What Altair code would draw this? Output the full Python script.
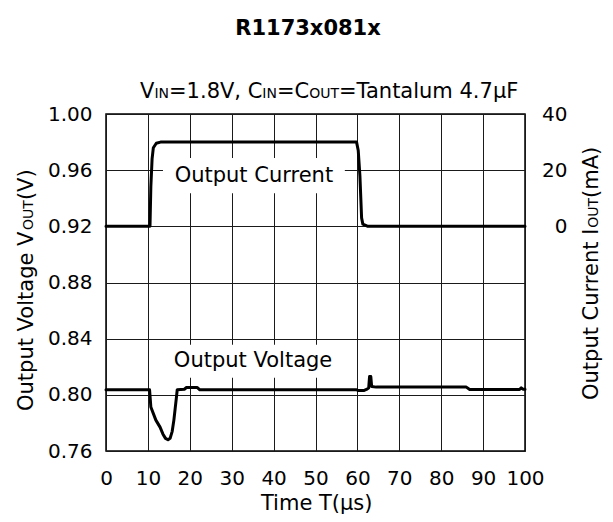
import altair as alt
import pandas as pd

# ---------------- data ----------------
# Output voltage trace (time in us, volts)
t_voltage = [0, 10.4, 10.7, 11.9, 12.9, 13.6, 14.2, 14.8, 15.3, 15.8, 16.2, 16.5, 16.8,
             17.0, 18.7, 19.2, 21.8, 22.4, 59.8, 60.2, 61.5, 62.3, 62.7, 62.9, 63.2,
             63.4, 64.5, 86.0, 86.8, 98.7, 99.1, 99.5, 100]
v_out = [0.8036, 0.8036, 0.7914, 0.7820, 0.7770, 0.7720, 0.7690, 0.7680, 0.7690, 0.7740,
         0.7820, 0.7900, 0.7980, 0.8036, 0.8040, 0.8052, 0.8052, 0.8036, 0.8036, 0.8030,
         0.8030, 0.8040, 0.8050, 0.8130, 0.8130, 0.8060, 0.8055, 0.8055, 0.8038, 0.8038,
         0.8050, 0.8040, 0.8040]

# Output current trace (time in us, mA)
t_current = [0, 10.5, 10.7, 11.0, 11.3, 12.0, 13.0, 59.8, 60.2, 60.6, 61.0, 61.3, 62.5, 100]
i_out = [0, 0, 14, 24, 28, 29.6, 30, 30, 27, 18, 3, 0.8, 0, 0]

# axes
x_ticks = [0, 10, 20, 30, 40, 50, 60, 70, 80, 90, 100]
v_ticks = [0.76, 0.80, 0.84, 0.88, 0.92, 0.96, 1.00]
i_ticks = [0, 20, 40]
v_domain = [0.76, 1.00]
i_domain = [-80, 40]

# in-plot annotations (data coordinates)
ann_text = ["Output Current", "Output Voltage"]
ann_t = [35.3, 35.1]
ann_v = [0.956, 0.824]
box_t0 = [13.6, 14.8]
box_t1 = [57.0, 55.4]
box_v0 = [0.9436, 0.8121]
box_v1 = [0.9686, 0.8357]

# ---------------- chart ----------------
FONT = "DejaVu Sans"
BIG = 21
SMALL = 14

df_v = pd.DataFrame({"t": t_voltage, "v": v_out, "i": range(len(t_voltage))})
df_i = pd.DataFrame({"t": t_current, "c": i_out, "i": range(len(t_current))})
df_ann = pd.DataFrame({"label": ann_text, "t": ann_t, "v": ann_v})
df_box = pd.DataFrame({"t0": box_t0, "t1": box_t1, "v0": box_v0, "v1": box_v1})
one = pd.DataFrame({"k": [0]})

x_scale = alt.Scale(domain=[0, 100], nice=False, zero=False)
v_scale = alt.Scale(domain=v_domain, nice=False, zero=False)
i_scale = alt.Scale(domain=i_domain, nice=False, zero=False)

x_axis = alt.Axis(values=x_ticks, title=None, grid=True, labelPadding=17,
                  labelFontSize=20, format="d", labelOverlap=False, labelFlush=False)
v_axis = alt.Axis(values=v_ticks, title=None, grid=True, orient="left",
                  labelPadding=14, labelFontSize=20, format=".2f",
                  labelOverlap=False, labelFlush=False)
i_axis = alt.Axis(values=i_ticks, title=None, grid=False, orient="right",
                  labelAlign="right", labelPadding=42, labelFontSize=20, format="d",
                  labelOverlap=False, labelFlush=False)

boxes = alt.Chart(df_box).mark_rect(fill="white", stroke=None).encode(
    x=alt.X("t0:Q", scale=x_scale, axis=x_axis),
    x2="t1:Q",
    y=alt.Y("v0:Q", scale=v_scale, axis=v_axis),
    y2="v1:Q",
)

annotations = alt.Chart(df_ann).mark_text(
    font=FONT, fontSize=BIG, color="black", align="center", baseline="middle"
).encode(
    x=alt.X("t:Q", scale=x_scale, axis=x_axis),
    y=alt.Y("v:Q", scale=v_scale, axis=v_axis),
    text="label:N",
)

v_line = alt.Chart(df_v).mark_line(
    color="black", strokeWidth=3, strokeJoin="round", strokeCap="round"
).encode(
    x=alt.X("t:Q", scale=x_scale, axis=x_axis),
    y=alt.Y("v:Q", scale=v_scale, axis=v_axis),
    order="i:Q",
)

i_line = alt.Chart(df_i).mark_line(
    color="black", strokeWidth=3, strokeJoin="round", strokeCap="round"
).encode(
    x=alt.X("t:Q", scale=x_scale, axis=x_axis),
    y=alt.Y("c:Q", scale=i_scale, axis=i_axis),
    order="i:Q",
)


def label(text, x, y, size, angle=0, align="left", weight="normal"):
    return alt.Chart(one).mark_text(
        text=text, font=FONT, fontSize=size, angle=angle, align=align,
        baseline="alphabetic", fontWeight=weight, color="black"
    ).encode(x=alt.value(x), y=alt.value(y))


texts = [
    # main title
    label("R1173x081x", 202, -79, BIG, align="center", weight="bold"),
    # subtitle: VIN=1.8V, CIN=COUT=Tantalum 4.7uF
    label("V", 34.0, -16, BIG),
    label("IN", 48.4, -16, SMALL),
    label("=1.8V, C", 63.0, -16, BIG),
    label("IN", 156.3, -16, SMALL),
    label("=C", 170.9, -16, BIG),
    label("OUT", 203.2, -16, SMALL),
    label("=Tantalum 4.7μF", 233.0, -16, BIG),
    # left axis title
    label("Output Voltage V", -73, 297, BIG, angle=270),
    label("OUT", -73, 115.9, SMALL, angle=270),
    label("(V)", -73, 86.1, BIG, angle=270),
    # right axis title
    label("Output Current I", 492, 286, BIG, angle=270),
    label("OUT", 492, 113.8, SMALL, angle=270),
    label("(mA)", 492, 84.0, BIG, angle=270),
    # x axis title
    label("Time T(μs)", 210.7, 396, BIG, align="center"),
]

volt_layer = alt.layer(boxes, annotations, v_line)

chart = (
    alt.layer(volt_layer, i_line, *texts)
    .resolve_scale(y="independent")
    .properties(
        width=419,
        height=337,
        padding={"left": 98, "top": 106, "right": 80, "bottom": 63},
        autosize=alt.AutoSizeParams(type="none"),
        background="white",
    )
    .configure_view(stroke="black", strokeWidth=1.5)
    .configure_axis(
        domain=False,
        ticks=False,
        tickSize=0,
        labelFont=FONT,
        labelColor="black",
        gridColor="#1a1a1a",
        gridWidth=1,
        gridOpacity=1,
    )
)

chart.save("out.html", embed_options={"renderer": "svg", "actions": False})
